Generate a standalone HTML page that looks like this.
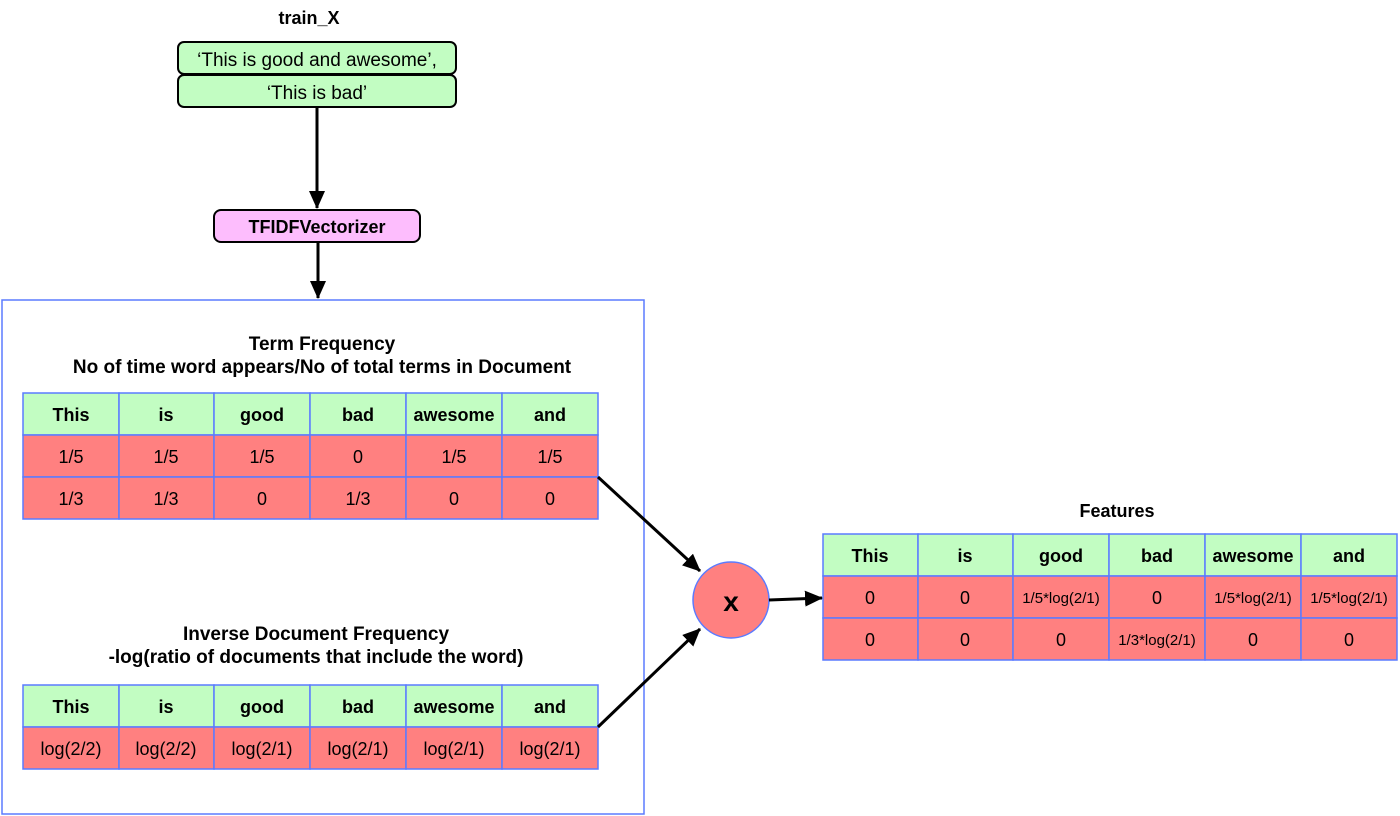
<!DOCTYPE html>
<html><head><meta charset="utf-8"><style>
html,body{margin:0;padding:0;background:#fff;width:1400px;height:816px;overflow:hidden}
svg{display:block}
text{font-family:"Liberation Sans",Arial,sans-serif;fill:#000}
.b{font-weight:bold}
.g{fill:#c2fdc2;stroke:#5b7bff;stroke-width:1.5}
.r{fill:#ff8080;stroke:#5b7bff;stroke-width:1.5}
</style></head><body>
<svg width="1400" height="816" viewBox="0 0 1400 816" xmlns="http://www.w3.org/2000/svg">
<defs>
<marker id="ah2" markerWidth="18" markerHeight="16" refX="17" refY="8" orient="auto" markerUnits="userSpaceOnUse"><path d="M0,0 L18,8 L0,16 z" fill="#000"/></marker></defs>

<text x="309" y="24" class="b" font-size="18" text-anchor="middle">train_X</text>
<rect x="178" y="42" width="278" height="32" rx="6" fill="#c2fdc2" stroke="#000" stroke-width="2"/>
<rect x="178" y="75" width="278" height="32" rx="6" fill="#c2fdc2" stroke="#000" stroke-width="2"/>
<text x="317" y="66" font-size="19" text-anchor="middle">‘This is good and awesome’,</text>
<text x="317" y="99" font-size="19" text-anchor="middle">‘This is bad’</text>
<line x1="317" y1="108" x2="317" y2="208" stroke="#000" stroke-width="3" marker-end="url(#ah2)"/>
<rect x="214" y="210" width="206" height="32" rx="7" fill="#fdbdfd" stroke="#000" stroke-width="2"/>
<text x="317" y="233" class="b" font-size="18" text-anchor="middle">TFIDFVectorizer</text>
<line x1="318" y1="243" x2="318" y2="298" stroke="#000" stroke-width="3" marker-end="url(#ah2)"/>

<rect x="2" y="300" width="642" height="514" fill="none" stroke="#5b7bff" stroke-width="1.5"/>
<text x="322" y="350" class="b" font-size="19" text-anchor="middle">Term Frequency</text>
<text x="322" y="373" class="b" font-size="19" text-anchor="middle">No of time word appears/No of total terms in Document</text>

<g font-size="18" text-anchor="middle">
<rect class="g" x="23" y="393" width="96" height="42"/><rect class="g" x="119" y="393" width="95" height="42"/><rect class="g" x="214" y="393" width="96" height="42"/><rect class="g" x="310" y="393" width="96" height="42"/><rect class="g" x="406" y="393" width="96" height="42"/><rect class="g" x="502" y="393" width="96" height="42"/>
<rect class="r" x="23" y="435" width="96" height="42"/><rect class="r" x="119" y="435" width="95" height="42"/><rect class="r" x="214" y="435" width="96" height="42"/><rect class="r" x="310" y="435" width="96" height="42"/><rect class="r" x="406" y="435" width="96" height="42"/><rect class="r" x="502" y="435" width="96" height="42"/>
<rect class="r" x="23" y="477" width="96" height="42"/><rect class="r" x="119" y="477" width="95" height="42"/><rect class="r" x="214" y="477" width="96" height="42"/><rect class="r" x="310" y="477" width="96" height="42"/><rect class="r" x="406" y="477" width="96" height="42"/><rect class="r" x="502" y="477" width="96" height="42"/>
<g class="b"><text x="71" y="421">This</text><text x="166" y="421">is</text><text x="262" y="421">good</text><text x="358" y="421">bad</text><text x="454" y="421">awesome</text><text x="550" y="421">and</text></g>
<text x="71" y="463">1/5</text><text x="166" y="463">1/5</text><text x="262" y="463">1/5</text><text x="358" y="463">0</text><text x="454" y="463">1/5</text><text x="550" y="463">1/5</text>
<text x="71" y="505">1/3</text><text x="166" y="505">1/3</text><text x="262" y="505">0</text><text x="358" y="505">1/3</text><text x="454" y="505">0</text><text x="550" y="505">0</text>

<text x="316" y="640" class="b" font-size="19">Inverse Document Frequency</text>
<text x="316" y="663" class="b" font-size="19">-log(ratio of documents that include the word)</text>
<rect class="g" x="23" y="685" width="96" height="42"/><rect class="g" x="119" y="685" width="95" height="42"/><rect class="g" x="214" y="685" width="96" height="42"/><rect class="g" x="310" y="685" width="96" height="42"/><rect class="g" x="406" y="685" width="96" height="42"/><rect class="g" x="502" y="685" width="96" height="42"/>
<rect class="r" x="23" y="727" width="96" height="42"/><rect class="r" x="119" y="727" width="95" height="42"/><rect class="r" x="214" y="727" width="96" height="42"/><rect class="r" x="310" y="727" width="96" height="42"/><rect class="r" x="406" y="727" width="96" height="42"/><rect class="r" x="502" y="727" width="96" height="42"/>
<g class="b"><text x="71" y="713">This</text><text x="166" y="713">is</text><text x="262" y="713">good</text><text x="358" y="713">bad</text><text x="454" y="713">awesome</text><text x="550" y="713">and</text></g>
<text x="71" y="755">log(2/2)</text><text x="166" y="755">log(2/2)</text><text x="262" y="755">log(2/1)</text><text x="358" y="755">log(2/1)</text><text x="454" y="755">log(2/1)</text><text x="550" y="755">log(2/1)</text>

<text x="1117" y="517" class="b">Features</text>
<rect class="g" x="823" y="534" width="95" height="42"/><rect class="g" x="918" y="534" width="95" height="42"/><rect class="g" x="1013" y="534" width="96" height="42"/><rect class="g" x="1109" y="534" width="96" height="42"/><rect class="g" x="1205" y="534" width="96" height="42"/><rect class="g" x="1301" y="534" width="96" height="42"/>
<rect class="r" x="823" y="576" width="95" height="42"/><rect class="r" x="918" y="576" width="95" height="42"/><rect class="r" x="1013" y="576" width="96" height="42"/><rect class="r" x="1109" y="576" width="96" height="42"/><rect class="r" x="1205" y="576" width="96" height="42"/><rect class="r" x="1301" y="576" width="96" height="42"/>
<rect class="r" x="823" y="618" width="95" height="42"/><rect class="r" x="918" y="618" width="95" height="42"/><rect class="r" x="1013" y="618" width="96" height="42"/><rect class="r" x="1109" y="618" width="96" height="42"/><rect class="r" x="1205" y="618" width="96" height="42"/><rect class="r" x="1301" y="618" width="96" height="42"/>
<g class="b"><text x="870" y="562">This</text><text x="965" y="562">is</text><text x="1061" y="562">good</text><text x="1157" y="562">bad</text><text x="1253" y="562">awesome</text><text x="1349" y="562">and</text></g>
<text x="870" y="604">0</text><text x="965" y="604">0</text><text x="1061" y="603" font-size="15">1/5*log(2/1)</text><text x="1157" y="604">0</text><text x="1253" y="603" font-size="15">1/5*log(2/1)</text><text x="1349" y="603" font-size="15">1/5*log(2/1)</text>
<text x="870" y="646">0</text><text x="965" y="646">0</text><text x="1061" y="646">0</text><text x="1157" y="645" font-size="15">1/3*log(2/1)</text><text x="1253" y="646">0</text><text x="1349" y="646">0</text>
</g>

<line x1="598" y1="477" x2="700" y2="571" stroke="#000" stroke-width="3" marker-end="url(#ah2)"/>
<line x1="598" y1="727" x2="700" y2="629" stroke="#000" stroke-width="3" marker-end="url(#ah2)"/>
<circle cx="731" cy="600" r="38" fill="#ff8080" stroke="#5b7bff" stroke-width="1.5"/>
<text x="731" y="611" class="b" font-size="28" text-anchor="middle">x</text>
<line x1="769" y1="600" x2="822" y2="598" stroke="#000" stroke-width="3" marker-end="url(#ah2)"/>
</svg>
</body></html>
